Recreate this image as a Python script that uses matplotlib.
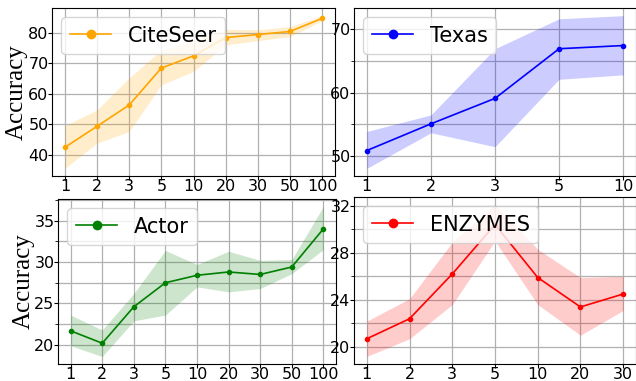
import numpy as np
import matplotlib
matplotlib.use('Agg')
from matplotlib import pyplot as plt
from matplotlib.ticker import MultipleLocator

# x tick labels (categorical)
x_long = ['1', '2', '3', '5', '10', '20', '30', '50', '100']
x_texas = ['1', '2', '3', '5', '10']
x_enz = ['1', '2', '3', '5', '10', '20', '30']

# CiteSeer
cs_mean = [42.4, 49.3, 56.3, 68.4, 72.4, 78.4, 79.4, 80.4, 84.7]
cs_low = [35.5, 43.8, 47.6, 62.9, 67.3, 76.0, 77.4, 78.7, 83.9]
cs_high = [49.5, 54.7, 65.2, 74.3, 77.2, 81.1, 81.0, 82.0, 85.6]

# Texas
tx_mean = [50.9, 55.1, 59.1, 66.9, 67.4]
tx_low = [48.1, 53.7, 51.5, 62.1, 62.8]
tx_high = [53.9, 56.5, 66.9, 71.6, 72.1]

# Actor
ac_mean = [21.7, 20.2, 24.6, 27.5, 28.4, 28.8, 28.5, 29.4, 34.0]
ac_low = [19.9, 18.6, 22.9, 23.6, 27.0, 26.4, 26.8, 28.6, 31.5]
ac_high = [23.6, 21.8, 26.2, 31.4, 29.7, 31.3, 30.2, 30.3, 36.7]

# ENZYMES
en_mean = [20.7, 22.4, 26.2, 30.4, 25.9, 23.4, 24.5]
en_low = [19.2, 20.7, 23.6, 29.0, 23.6, 21.0, 23.1]
en_high = [22.2, 24.1, 28.9, 32.1, 28.3, 25.9, 26.0]

fig = plt.figure(figsize=(6.36, 3.81), dpi=100)
ax_cs = fig.add_axes([0.0818, 0.538, 0.4449, 0.441])
ax_tx = fig.add_axes([0.5566, 0.538, 0.4434, 0.441])
ax_ac = fig.add_axes([0.0912, 0.0446, 0.4371, 0.4331])
ax_en = fig.add_axes([0.5566, 0.0446, 0.4434, 0.4385])

tick_fs = 11.5


def panel(ax, labels, mean, low, high, color, name, major, minor=None):
    x = np.arange(len(labels))
    ax.plot(x, mean, '-o', color=color, lw=1.2, ms=3, label=name)
    ax.fill_between(x, low, high, color=color, alpha=0.2, lw=0)
    ax.set_xticks(x)
    ax.set_xticklabels(labels)
    ax.yaxis.set_major_locator(MultipleLocator(major))
    if minor is not None:
        ax.yaxis.set_minor_locator(MultipleLocator(minor))
        ax.grid(True, which='both', color='#b0b0b0', lw=0.9)
    else:
        ax.grid(True, which='major', color='#b0b0b0', lw=0.9)
    ax.set_axisbelow(True)
    ax.tick_params(which='major', labelsize=tick_fs, length=3, pad=-0.5)
    ax.tick_params(which='minor', length=2)
    ax.legend(loc='upper left', fontsize=15, markerscale=2.0,
              handlelength=2.0, borderaxespad=0.45)


panel(ax_cs, x_long, cs_mean, cs_low, cs_high, 'orange', 'CiteSeer', 10)
panel(ax_tx, x_texas, tx_mean, tx_low, tx_high, 'blue', 'Texas', 10, 5)
panel(ax_ac, x_long, ac_mean, ac_low, ac_high, 'green', 'Actor', 5, 2.5)
panel(ax_en, x_enz, en_mean, en_low, en_high, 'red', 'ENZYMES', 4, 2)

for ax in (ax_cs, ax_ac):
    ax.set_ylabel('Accuracy', fontsize=18, family='Liberation Serif', labelpad=0)

fig.savefig('out.png', dpi=100)
